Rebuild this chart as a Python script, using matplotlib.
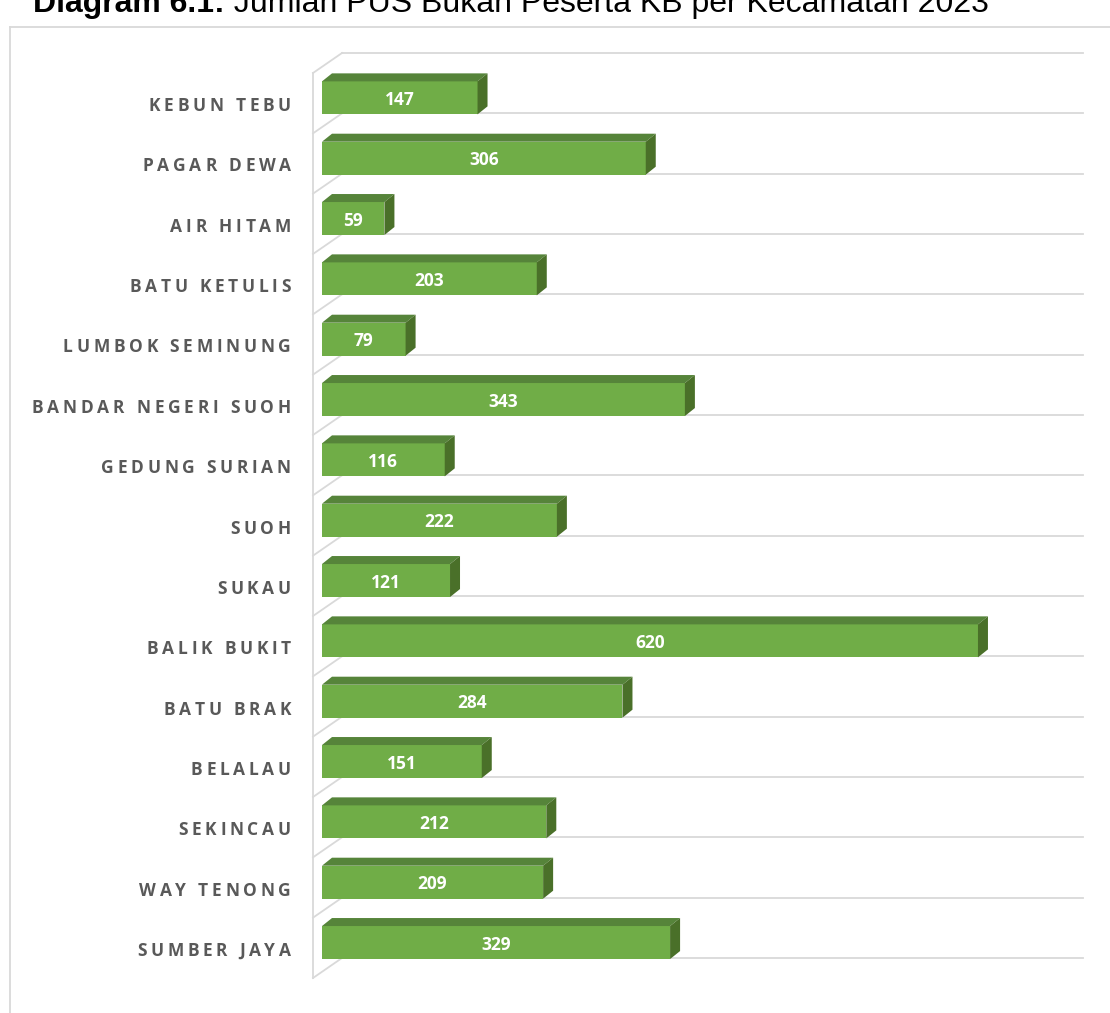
import matplotlib
matplotlib.use("Agg")
import matplotlib.pyplot as plt
from matplotlib.patches import Polygon
from matplotlib.lines import Line2D
from matplotlib.transforms import offset_copy
from matplotlib.font_manager import FontProperties, findfont, get_font

# ---- data ----
categories = ["KEBUN TEBU", "PAGAR DEWA", "AIR HITAM", "BATU KETULIS", "LUMBOK SEMINUNG",
              "BANDAR NEGERI SUOH", "GEDUNG SURIAN", "SUOH", "SUKAU", "BALIK BUKIT",
              "BATU BRAK", "BELALAU", "SEKINCAU", "WAY TENONG", "SUMBER JAYA"]
values = [147, 306, 59, 203, 79, 343, 116, 222, 121, 620, 284, 151, 212, 209, 329]
title_bold = "Diagram 6.1:"
title_rest = " Jumlah PUS Bukan Peserta KB per Kecamatan 2023"
x_max = 700

W, H = 1110, 1013
DPI = 100
fig = plt.figure(figsize=(W / DPI, H / DPI), dpi=DPI)

x0_px, x1_px = 313, 313 + 740.6
y0_px, y1_px = 73, 978
ax = fig.add_axes([x0_px / W, 1 - y1_px / H, (x1_px - x0_px) / W, (y1_px - y0_px) / H])
n = len(categories)
ax.set_xlim(0, x_max)
ax.set_ylim(n, 0)
ax.axis("off")

pxv = (x1_px - x0_px) / x_max
pxc = (y1_px - y0_px) / n
DX = 29 / pxv
DY = -20 / pxc
grid_c = "#D9D9D9"

for k in range(n + 1):
    ax.add_line(Line2D([DX, x_max + DX], [k + DY, k + DY], color=grid_c, lw=1.3,
                       clip_on=False, zorder=1))
    ax.add_line(Line2D([0, DX], [k, k + DY], color=grid_c, lw=1.3, clip_on=False, zorder=1))
ax.add_line(Line2D([0, 0], [0, n], color=grid_c, lw=1.3, clip_on=False, zorder=1))

bx0 = 9 / pxv
by = -5.3 / pxc
bh = 33 / pxc
ddx = 10 / pxv
ddy = -8 / pxc
front_c = "#70AD47"
top_c = "#56843A"
side_c = "#4A7029"

ys = [i + 0.5 + by for i in range(n)]
ax.barh(ys, values, left=bx0, height=bh, color=front_c, edgecolor="none", zorder=3,
        clip_on=False)
val_tr = offset_copy(ax.transData, fig=fig, x=0, y=-2, units="dots")
for yc, v in zip(ys, values):
    yt = yc - bh / 2
    yb = yc + bh / 2
    xe = bx0 + v
    ax.add_patch(Polygon([(bx0, yt), (xe, yt), (xe + ddx, yt + ddy), (bx0 + ddx, yt + ddy)],
                         closed=True, facecolor=top_c, edgecolor="none", zorder=3, clip_on=False))
    ax.add_patch(Polygon([(xe, yt), (xe + ddx, yt + ddy), (xe + ddx, yb + ddy), (xe, yb)],
                         closed=True, facecolor=side_c, edgecolor="none", zorder=3, clip_on=False))
    ax.text(bx0 + v / 2, yc, str(v), transform=val_tr, ha="center", va="center",
            color="white", fontsize=12.5, fontweight="bold", family="Open Sans", zorder=5)

# category labels with letter spacing
lab_fs = 12.5
lab_prop = FontProperties(family="Open Sans", weight="bold", size=lab_fs)
ft = get_font(findfont(lab_prop))
ft.set_size(lab_fs, DPI)
ls_px = 3.7


def adv(ch):
    g = ft.load_char(ord(ch))
    return g.linearHoriAdvance / 65536.0


lab_x = (291 - x0_px) / pxv
for i, c in enumerate(categories):
    widths = [adv(ch) for ch in c]
    total = sum(widths) + ls_px * (len(c) - 1)
    xoff = -total
    for ch, w in zip(c, widths):
        if ch != " ":
            tr = offset_copy(ax.transData, fig=fig, x=xoff, y=-3, units="dots")
            ax.text(lab_x, i + 0.5, ch, transform=tr, ha="left", va="center",
                    color="#595959", fontproperties=lab_prop, clip_on=False)
        xoff += w + ls_px

# chart border
fig.add_artist(Line2D([10 / W, 10 / W], [0, 1 - 27 / H], transform=fig.transFigure,
                      color=grid_c, lw=1.3))
fig.add_artist(Line2D([10 / W, 1.0], [1 - 27 / H, 1 - 27 / H], transform=fig.transFigure,
                      color=grid_c, lw=1.3))

# title (cropped at top, as in the reference)
t1 = fig.text(33 / W, 1 - 12 / H, title_bold, ha="left", va="baseline", fontsize=23,
              fontweight="bold", family="Liberation Sans", color="black")
fig.canvas.draw()
r = fig.canvas.get_renderer()
bb = t1.get_window_extent(r)
fig.text(bb.x1 / W, 1 - 12 / H, title_rest, ha="left", va="baseline", fontsize=23,
         family="Liberation Sans", color="black")

fig.savefig("out.png", dpi=DPI)
